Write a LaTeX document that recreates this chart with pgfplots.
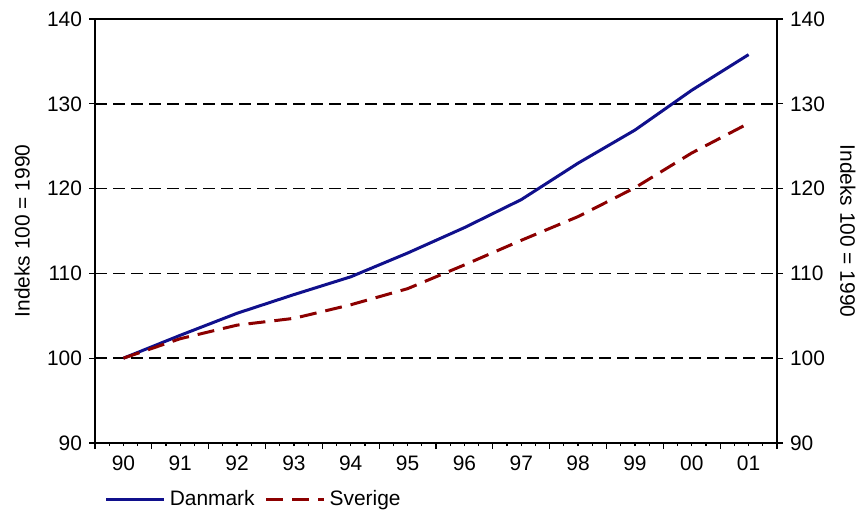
\documentclass[border=0pt]{standalone}
\usepackage{pgfplots}
\pgfplotsset{compat=1.18}
\usepackage{fontspec}
\setmainfont{Liberation Sans}

\definecolor{dkblue}{RGB}{16,16,140}
\definecolor{dkred}{RGB}{140,0,0}

% Index values, 1990 = 100
\pgfplotstableread{
x val
0 100.0
1 102.7
2 105.3
3 107.5
4 109.6
5 112.4
6 115.4
7 118.7
8 123.0
9 126.9
10 131.6
11 135.8
}\danmark
\pgfplotstableread{
x val
0 100.0
1 102.3
2 103.9
3 104.7
4 106.3
5 108.2
6 111.0
7 113.9
8 116.7
9 120.1
10 124.2
11 127.7
}\sverige

\pgfplotsset{
  common/.style={
    scale only axis,
    width=341bp, height=212bp,
    xmin=-0.5, xmax=11.5,
    ymin=90, ymax=140,
    ytick={90,100,...,140},
    tick align=outside,
    axis line style={line width=0.8bp},
    every tick/.style={black, line width=0.6bp},
    major tick length=3bp,
    minor tick length=1.6bp,
    /pgf/number format/assume math mode=true,
    tick label style={font=\fontsize{10.5}{12.6}\selectfont},
    label style={font=\fontsize{10.5}{12.6}\selectfont},
  },
}

\begin{document}
\begin{tikzpicture}[font=\fontsize{10.5}{12.6}\selectfont]
\useasboundingbox (-47.5bp,-35bp) rectangle (382.5bp,221.5bp);
\begin{axis}[
  common,
  ytick pos=left,
  xtick pos=bottom,
  xtick={-0.5,0.5,...,11.5},
  xticklabels={},
  minor x tick num=3,
  extra x ticks={0,...,11},
  extra x tick labels={90,91,92,93,94,95,96,97,98,99,00,01},
  extra x tick style={major tick length=0pt, grid=none,
    tick label style={yshift=-3bp}},
  ymajorgrids,
  grid style={black, line width=0.75bp, dash pattern=on 6bp off 3bp},
  ylabel={Indeks 100 = 1990},
  every axis y label/.style={at={(axis description cs:-0.107,0.5)},
    rotate=90, anchor=center},
  legend columns=2,
  legend style={draw=none, fill=none, at={(axis description cs:0.005,-0.134)},
    anchor=west, font=\fontsize{10.5}{12.6}\selectfont,
    /tikz/every even column/.append style={column sep=3bp}},
  legend image code/.code={
    \draw[#1] (0bp,0bp) -- (29bp,0bp);
  },
]
\addplot[dkblue, line width=1.5bp] table[x=x, y=val] {\danmark};
\addlegendentry{Danmark}
\addplot[dkred, line width=1.5bp, dash pattern=on 8.5bp off 4.5bp]
  table[x=x, y=val] {\sverige};
\addlegendentry{Sverige}
\end{axis}
\begin{axis}[
  common,
  axis x line=none,
  axis y line*=right,
  ylabel={Indeks 100 = 1990},
  every axis y label/.style={at={(axis description cs:1.104,0.5)},
    rotate=-90, anchor=center},
]
\end{axis}
\end{tikzpicture}
\end{document}
